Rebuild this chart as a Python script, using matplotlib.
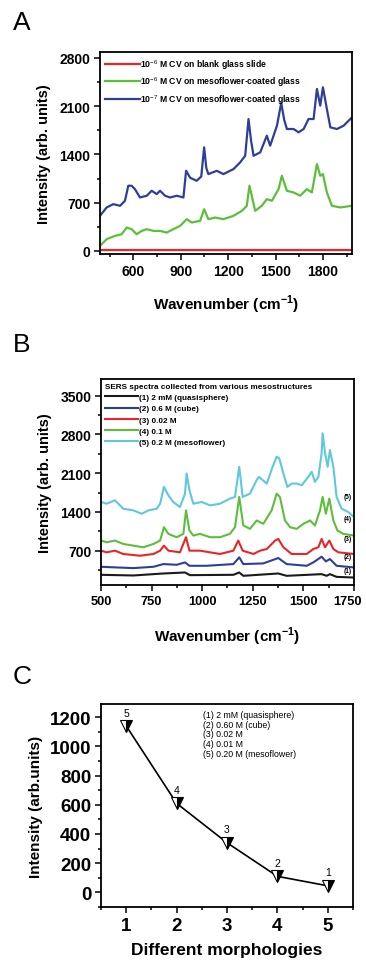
import numpy as np
import matplotlib.pyplot as plt
import matplotlib.transforms as mtransforms
from matplotlib.ticker import MultipleLocator

plt.rcParams['font.family'] = ['Liberation Sans', 'DejaVu Sans']
plt.rcParams['mathtext.fontset'] = 'custom'
plt.rcParams['mathtext.rm'] = 'Liberation Sans'
plt.rcParams['mathtext.bf'] = 'Liberation Sans:bold'

# ---- panel A: CV spectra (wavenumber, intensity)
a_wn_blue = [389, 431, 473, 516, 547, 568, 589, 610, 642, 685, 716, 748, 769, 801, 832, 875,
             917, 934, 960, 1001, 1030, 1048, 1062, 1075, 1128, 1170, 1234, 1276, 1308, 1329,
             1345, 1361, 1403, 1445, 1466, 1509, 1536, 1555, 1572, 1614, 1646, 1678, 1709,
             1741, 1762, 1783, 1800, 1825, 1847, 1889, 1931, 1984]
a_blue = [509, 630, 678, 654, 727, 945, 945, 896, 775, 800, 872, 824, 872, 800, 775, 800,
          775, 1163, 1060, 1017, 1080, 1502, 1200, 1114, 1162, 1114, 1187, 1284, 1380, 1913,
          1600, 1380, 1429, 1671, 1526, 1816, 2146, 1900, 1768, 1768, 1720, 1768, 1913,
          1913, 2349, 2107, 2373, 2058, 1792, 1768, 1816, 1937]
a_wn_green = [389, 431, 484, 526, 558, 589, 621, 653, 685, 727, 769, 811, 853, 896, 938, 970,
              1023, 1048, 1075, 1118, 1170, 1234, 1287, 1318, 1335, 1371, 1413, 1445, 1477,
              1519, 1540, 1572, 1614, 1656, 1698, 1730, 1762, 1783, 1800, 1825, 1857, 1910, 1984]
a_green = [73, 170, 218, 242, 339, 315, 242, 290, 315, 290, 290, 266, 315, 363, 460, 412,
           436, 605, 460, 484, 460, 509, 581, 654, 945, 581, 654, 751, 727,
           896, 1090, 872, 848, 800, 896, 848, 1259, 1090, 1114, 848, 654, 630, 654]
a_wn_red = [389, 700, 1000, 1300, 1600, 1984]
a_red = [15, 15, 15, 15, 15, 15]
a_labels = ['10$^{-6}$ M CV on blank glass slide',
            '10$^{-6}$ M CV on mesoflower-coated glass',
            '10$^{-7}$ M CV on mesoflower-coated glass']

# ---- panel B: SERS spectra of the five mesostructures
b_wn5 = [500, 528, 569, 610, 660, 701, 734, 775, 792, 811, 833, 857, 890, 915, 923, 937, 956,
         997, 1039, 1088, 1137, 1162, 1183, 1200, 1236, 1269, 1280, 1319, 1348, 1368, 1381,
         1401, 1421, 1442, 1467, 1492, 1524, 1541, 1557, 1574, 1590, 1595, 1607, 1620, 1631,
         1648, 1664, 1689, 1722, 1750]
b_s5 = [1579, 1548, 1609, 1457, 1427, 1367, 1427, 1457, 1548, 1851, 1700, 1579, 1488, 1730,
        2094, 1791, 1548, 1579, 1518, 1548, 1639, 1670, 2215, 1670, 1730, 1973, 2033, 1912,
        2215, 2397, 2367, 2094, 1851, 1912, 1912, 1882, 2033, 2124, 1942, 2033, 2458, 2821,
        2458, 2215, 2518, 2215, 1670, 1457, 1397, 1306]
b_wn4 = [500, 528, 569, 610, 660, 709, 759, 792, 811, 833, 874, 907, 920, 937, 956, 989, 1039,
         1088, 1137, 1162, 1183, 1203, 1236, 1269, 1302, 1343, 1368, 1384, 1409, 1434, 1467,
         1500, 1533, 1557, 1582, 1595, 1611, 1628, 1648, 1668, 1697, 1750]
b_s4 = [882, 852, 882, 821, 791, 761, 821, 882, 1124, 1003, 943, 1003, 1427, 1064, 973, 1003,
        943, 943, 1003, 1124, 1670, 1155, 1094, 1245, 1185, 1427, 1730, 1670, 1245, 1124, 1094,
        1185, 1245, 1155, 1427, 1670, 1367, 1639, 1245, 1064, 1003, 973]
b_wn3 = [500, 528, 569, 610, 693, 759, 792, 811, 833, 890, 920, 937, 989, 1088, 1154, 1178,
         1200, 1253, 1286, 1319, 1360, 1376, 1401, 1442, 1516, 1549, 1574, 1590, 1607, 1628,
         1648, 1673, 1750]
b_s3 = [700, 670, 700, 640, 609, 640, 700, 791, 700, 670, 943, 700, 700, 640, 700, 882,
        700, 640, 700, 730, 882, 912, 761, 640, 640, 730, 761, 912, 761, 882,
        730, 670, 640]
b_wn2 = [500, 577, 660, 759, 808, 874, 915, 937, 1022, 1154, 1183, 1203, 1302, 1376, 1417,
         1516, 1549, 1590, 1611, 1631, 1664, 1750]
b_s2 = [409, 397, 385, 409, 458, 445, 488, 427, 427, 458, 579, 458, 470, 567, 458,
        427, 488, 591, 506, 549, 427, 397]
b_wn1 = [500, 660, 808, 915, 939, 1154, 1183, 1203, 1376, 1417, 1590, 1615, 1631, 1664, 1750]
b_s1 = [264, 252, 288, 306, 258, 264, 306, 246, 288, 246, 276, 246, 276, 227, 215]
b_labels = ['(1) 2 mM (quasisphere)', '(2) 0.6 M (cube)', '(3) 0.02 M', '(4) 0.1 M',
            '(5) 0.2 M (mesoflower)']
b_tags = ['(1)', '(2)', '(3)', '(4)', '(5)']
b_tag_y = [276, 530, 852, 1215, 1609]

# ---- panel C: peak intensity vs morphology
c_x = [1, 2, 3, 4, 5]
c_y = [1140, 610, 340, 110, 45]
c_tags = ['5', '4', '3', '2', '1']
c_legend = ['(1) 2 mM (quasisphere)', '(2) 0.60 M (cube)', '(3) 0.02 M', '(4) 0.01 M',
            '(5) 0.20 M (mesoflower)']

W, H = 366, 970
fig = plt.figure(figsize=(W / 100, H / 100), dpi=100)


def box(l, t, r, b):
    return [l / W, 1 - b / H, (r - l) / W, (b - t) / H]


def style(ax, fs):
    for s in ax.spines.values():
        s.set_linewidth(1.3)
    ax.tick_params(which='both', direction='out', width=1.1, labelsize=fs)
    ax.tick_params(which='major', length=4, pad=3)
    ax.tick_params(which='minor', length=2.5)
    for lab in ax.get_xticklabels() + ax.get_yticklabels():
        lab.set_fontweight('bold')


# A
axA = fig.add_axes(box(100, 53, 352, 255))
axA.plot(a_wn_red, a_red, color='#e8262a', lw=1.6, label=a_labels[0])
axA.plot(a_wn_green, a_green, color='#5cbf3c', lw=1.6, label=a_labels[1])
axA.plot(a_wn_blue, a_blue, color='#2e3f9a', lw=1.6, label=a_labels[2])
axA.set_xlim(389, 1984)
axA.set_ylim(-45, 2885)
axA.set_xticks([600, 900, 1200, 1500, 1800])
axA.xaxis.set_minor_locator(MultipleLocator(150))
axA.set_yticks([0, 700, 1400, 2100, 2800])
axA.yaxis.set_minor_locator(MultipleLocator(350))
style(axA, 10)
axA.set_ylabel('Intensity (arb. units)', fontsize=10.5, fontweight='bold', labelpad=6)
axA.set_xlabel('Wavenumber (cm$^{\\mathbf{-1}}$)', fontsize=11, fontweight='bold', labelpad=11)
axA.legend(loc='upper left', bbox_to_anchor=(0, 1), borderaxespad=0.4, borderpad=0.2,
           frameon=False, handlelength=4.0, handletextpad=0.1, labelspacing=0.45,
           prop={'size': 6.2, 'weight': 'bold'})

# B
axB = fig.add_axes(box(101, 380, 354, 586))
b_colors = ['#1a1a1a', '#2e3f9a', '#e8262a', '#5cbf3c', '#5fc8dc']
for wn, s, c, lab in zip([b_wn1, b_wn2, b_wn3, b_wn4, b_wn5], [b_s1, b_s2, b_s3, b_s4, b_s5],
                         b_colors, b_labels):
    axB.plot(wn, s, color=c, lw=1.5, label=lab)
for t, y in zip(b_tags, b_tag_y):
    axB.text(1740, y, t, fontsize=4.8, fontweight='bold', ha='right', va='bottom')
axB.set_xlim(500, 1750)
axB.set_ylim(80, 3800)
axB.set_xticks([500, 750, 1000, 1250, 1500, 1750])
axB.xaxis.set_minor_locator(MultipleLocator(125))
axB.set_yticks([700, 1400, 2100, 2800, 3500])
axB.yaxis.set_minor_locator(MultipleLocator(350))
style(axB, 10)
axB.tick_params(axis='x', labelsize=9.3)
# keep the last tick label inside the figure edge
last = axB.get_xticklabels()[-1]
last.set_transform(last.get_transform() +
                   mtransforms.ScaledTranslation(-6 / 100, 0, fig.dpi_scale_trans))
axB.set_ylabel('Intensity (arb. units)', fontsize=10.5, fontweight='bold', labelpad=6)
axB.set_xlabel('Wavenumber (cm$^{\\mathbf{-1}}$)', fontsize=11, fontweight='bold', labelpad=13)
legB = axB.legend(loc='upper left', bbox_to_anchor=(0, 1), borderaxespad=0.3, borderpad=0.2,
                  frameon=False, handlelength=4.0, handletextpad=0.1, labelspacing=0.42,
                  title='SERS spectra collected from various mesostructures',
                  title_fontproperties={'size': 5.9, 'weight': 'bold'},
                  prop={'size': 5.9, 'weight': 'bold'})
legB._legend_box.align = 'left'

# C
axC = fig.add_axes(box(101, 705, 353, 908))
axC.plot(c_x, c_y, color='black', lw=1.2, marker='v', ms=9, mfc='black',
         mfcalt='white', fillstyle='right', mec='black', mew=0.8)
for x, y, t in zip(c_x, c_y, c_tags):
    axC.annotate(t, (x, y), xytext=(0, 6), textcoords='offset points', ha='center',
                 va='bottom', fontsize=7.5)
axC.text(0.405, 0.97, '\n'.join(c_legend), transform=axC.transAxes, fontsize=6.3,
         va='top', ha='left', linespacing=1.1)
axC.set_xlim(0.5, 5.5)
axC.set_ylim(-100, 1290)
axC.set_xticks(c_x)
axC.xaxis.set_minor_locator(MultipleLocator(0.5))
axC.set_yticks([0, 200, 400, 600, 800, 1000, 1200])
axC.yaxis.set_minor_locator(MultipleLocator(100))
style(axC, 13.5)
axC.set_ylabel('Intensity (arb.units)', fontsize=11, fontweight='bold', labelpad=5)
axC.set_xlabel('Different morphologies', fontsize=12.5, fontweight='bold', labelpad=6)

for letter, y in zip(['A', 'B', 'C'], [23, 345, 677]):
    fig.text(22 / W, 1 - y / H, letter, fontsize=19, ha='center', va='center')

fig.savefig('out.png', dpi=100)
